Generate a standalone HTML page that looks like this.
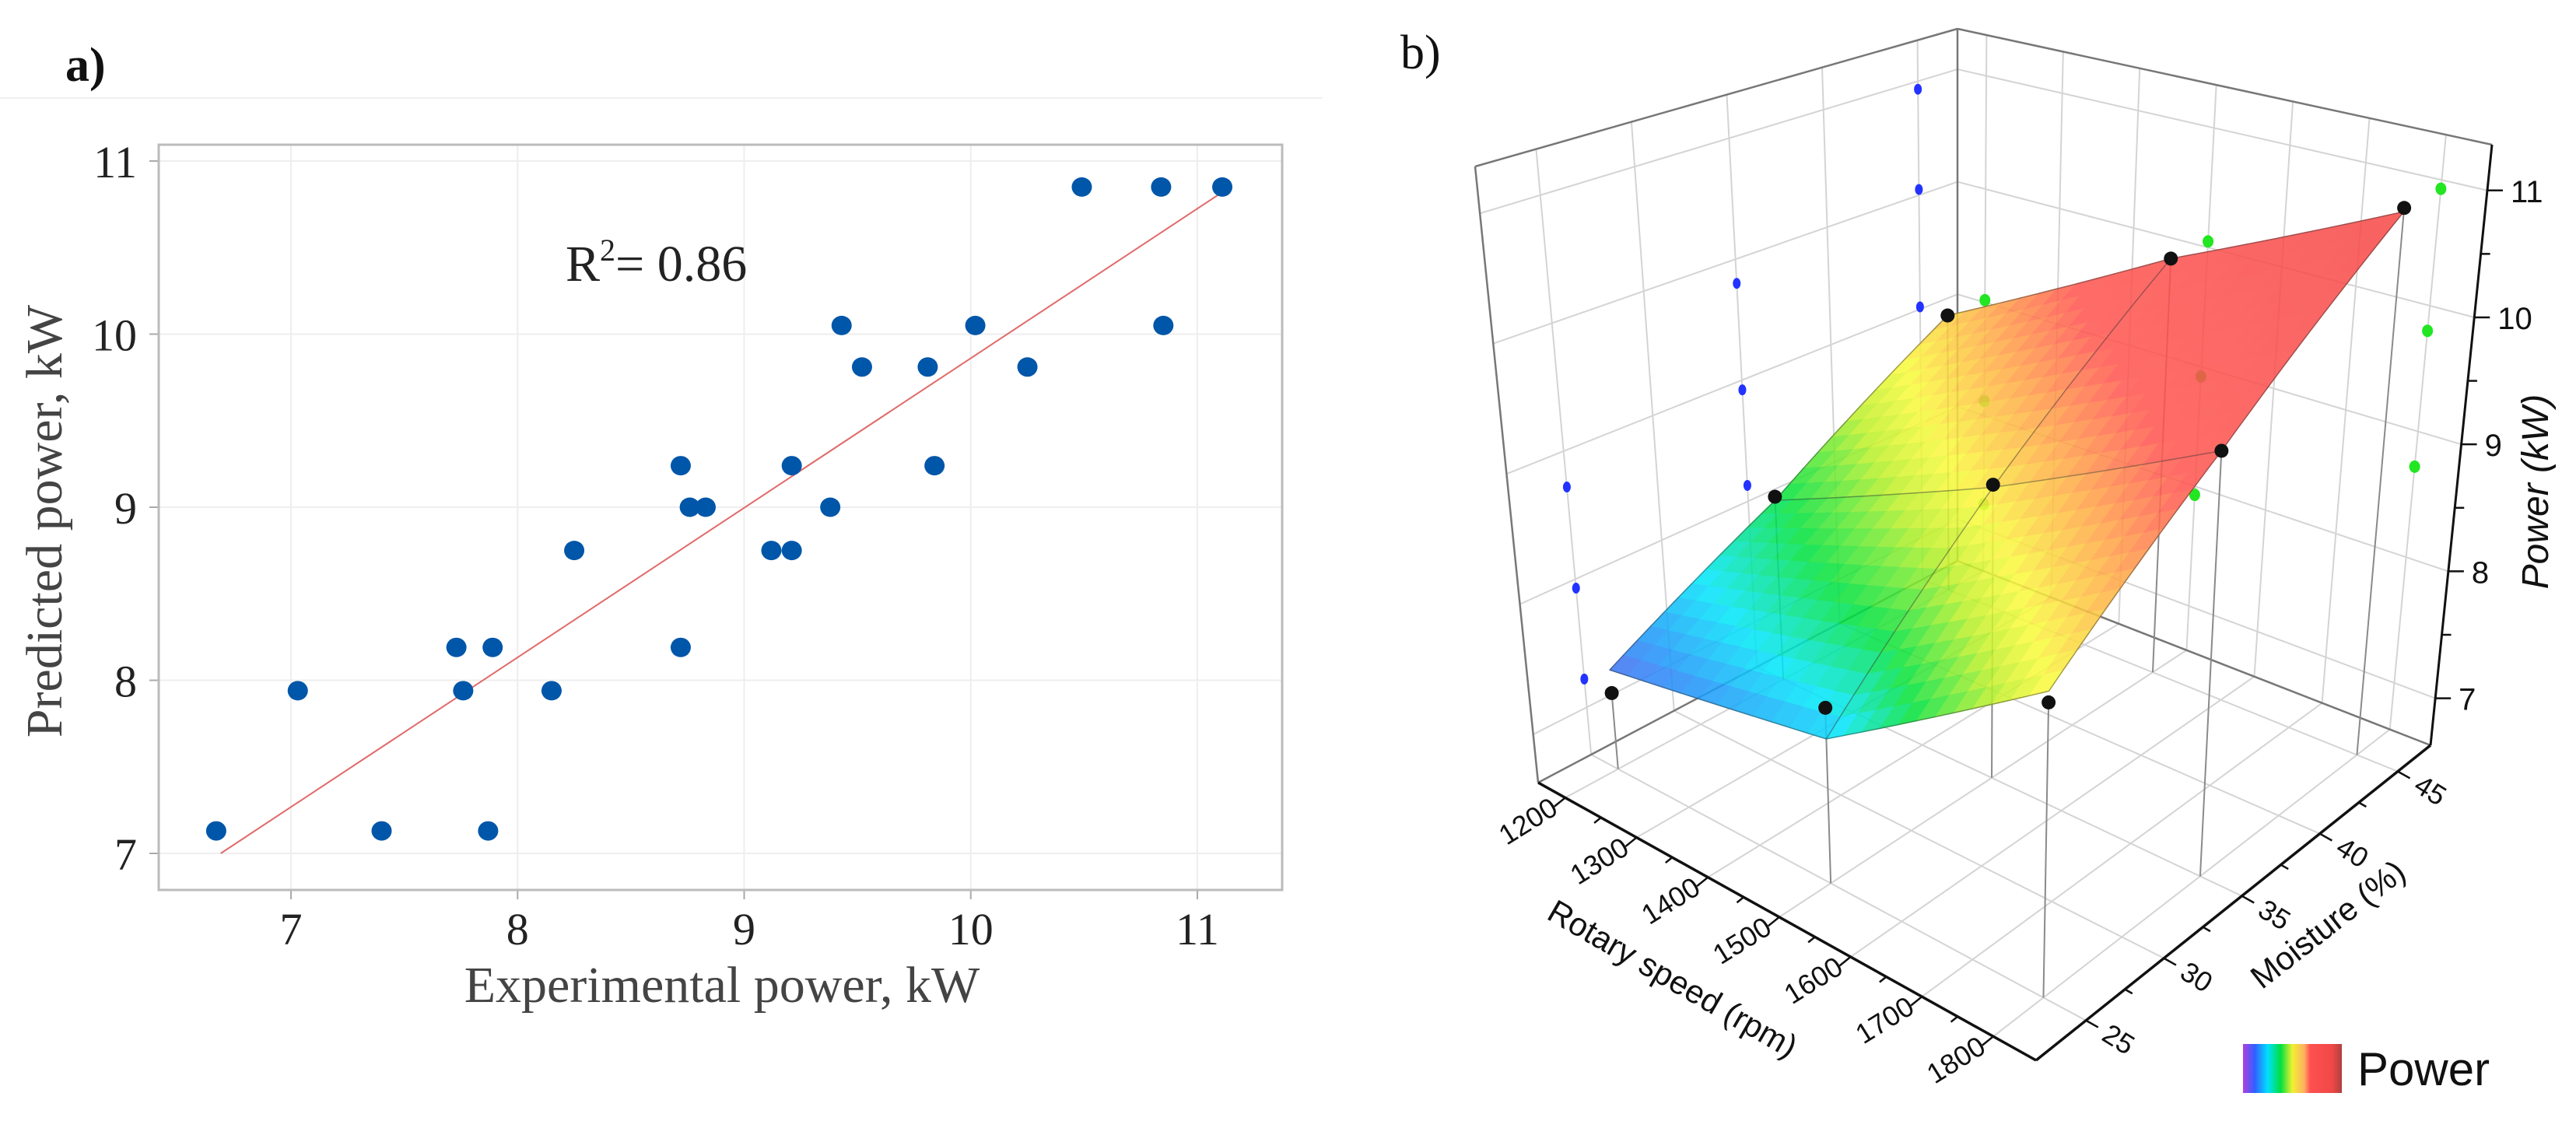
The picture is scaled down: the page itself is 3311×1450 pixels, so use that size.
<!DOCTYPE html>
<html><head><meta charset="utf-8"><style>
html,body{margin:0;padding:0;background:#fff;}
svg{display:block;}
</style></head><body>
<svg id="root" width="3311" height="1450" viewBox="0 0 3311 1450" xmlns="http://www.w3.org/2000/svg">
<rect width="3311" height="1450" fill="#fff"/>
<line x1="0" y1="126" x2="1700" y2="126" stroke="#f0f0f0" stroke-width="2"/>
<text x="84" y="104" font-family="Liberation Serif, serif" font-weight="bold" font-size="62" fill="#111">a)</text>
<text x="1800" y="88" font-family="Liberation Serif, serif" font-size="62" fill="#111">b)</text>
<g id="pa"></g>
<g id="pb"></g>
</svg>
<script>
// ---------- Panel a data ----------
const expPower  = [6.67,7.03,7.40,7.73,7.89,7.76,7.87,8.15,8.25,8.72,8.72,8.76,8.83,9.12,9.21,9.21,9.38,9.43,9.52,9.81,9.84,10.02,10.25,10.49,10.84,10.85,11.11];
const predPower = [7.13,7.94,7.13,8.19,8.19,7.94,7.13,7.94,8.75,9.24,8.19,9.00,9.00,8.75,8.75,9.24,9.00,10.05,9.81,9.81,9.24,10.05,9.81,10.85,10.85,10.05,10.85];
const xTicksA = [7,8,9,10,11];
const yTicksA = [7,8,9,10,11];
const fitLine = [[6.69,7.0],[11.11,10.82]];
const r2Label = "0.86";

// ---------- Panel b data ----------
const rpmLevels = [1200,1500,1800];
const moistLevels = [25,35,45];
// experimental power [rpm][moisture]
const expGrid = [[7.22,8.13,9.02],[7.93,8.92,10.05],[8.72,9.80,10.93]];
// predicted surface [rpm][moisture]
const surfGrid = [[7.40,8.10,9.02],[7.70,8.90,10.05],[8.80,9.80,10.90]];
const rpmTicks = [1200,1300,1400,1500,1600,1700,1800];
const moistTicks = [25,30,35,40,45];
const zTicks = [7,8,9,10,11];

const NS="http://www.w3.org/2000/svg";
function mk(parent, tag, attrs){const e=document.createElementNS(NS,tag);for(const k in attrs)e.setAttribute(k,attrs[k]);parent.appendChild(e);return e;}

// ===== Panel a =====
(function(){
  const g=document.getElementById('pa');
  const X0=204,X1=1648,Y0=186,Y1=1144;
  const sx=v=>374+(v-7)*291.25, sy=v=>1097-(v-7)*222.5;
  xTicksA.forEach(t=>{
    const l=mk(g,'line',{x1:sx(t),y1:Y0,x2:sx(t),y2:Y1,stroke:'#eeeeee','stroke-width':2});
    
    
    const tk=mk(g,'line',{x1:sx(t),y1:Y1,x2:sx(t),y2:Y1+12,stroke:'#aaa','stroke-width':2});
    
    
    const tx=mk(g,'text',{x:sx(t),y:1214,'text-anchor':'middle','font-family':'Liberation Serif, serif','font-size':58,fill:'#222'});
    tx.textContent=t;
    
    
  });
  yTicksA.forEach(t=>{
    const l=mk(g,'line',{x1:X0,y1:sy(t),x2:X1,y2:sy(t),stroke:'#eeeeee','stroke-width':2});
    
    
    const tk=mk(g,'line',{x1:X0-12,y1:sy(t),x2:X0,y2:sy(t),stroke:'#aaa','stroke-width':2});
    
    
    const tx=mk(g,'text',{x:176,y:sy(t)+21,'text-anchor':'end','font-family':'Liberation Serif, serif','font-size':58,fill:'#222'});
    tx.textContent=t;
    
    
  });
  const fr=mk(g,'rect',{x:X0,y:Y0,width:X1-X0,height:Y1-Y0,fill:'none',stroke:'#bbbbbb','stroke-width':3});
  
  
  const fl=mk(g,'line',{x1:sx(fitLine[0][0]),y1:sy(fitLine[0][1]),x2:sx(fitLine[1][0]),y2:sy(fitLine[1][1]),stroke:'#e06a6a','stroke-width':2});
  
  
  expPower.forEach((v,i)=>{
    const c=mk(g,'ellipse',{cx:sx(v),cy:sy(predPower[i]),rx:13,ry:12.5,fill:'#0056a8'});
    
    
  });
  const r2=mk(g,'text',{x:727,y:361,'font-family':'Liberation Serif, serif','font-size':66,fill:'#222'});
  r2.innerHTML='R<tspan font-size="40" dy="-26">2</tspan><tspan dy="26">= '+r2Label+'</tspan>';
  
  
  const xt=mk(g,'text',{x:928,y:1288,'text-anchor':'middle','font-family':'Liberation Serif, serif','font-size':66,fill:'#444'});
  xt.textContent='Experimental power, kW';
  
  
  const yt=mk(g,'text',{x:0,y:0,'text-anchor':'middle','font-family':'Liberation Serif, serif','font-size':66,fill:'#444',transform:'translate(79,670) rotate(-90)'});
  yt.textContent='Predicted power, kW';
  
  
})();

// ===== Panel b =====
(function(){
  const g=document.getElementById('pb');
  const rpmMin=1162,rpmMax=1860,mMin=21.8,mMax=47.1,zMin=6.63,zMax=11.36;
  const FL={L:[1977,1006],F:[2617,1363],R:[3124,958],B:[2516,721]};
  const TP={L:[1896,214],F:[2632,483],R:[3203,186],B:[2516,37]};
  function bil(c,u,v){const a=(1-u)*(1-v),b=u*(1-v),d=u*v,e=(1-u)*v;
    return [c.L[0]*a+c.F[0]*b+c.R[0]*d+c.B[0]*e, c.L[1]*a+c.F[1]*b+c.R[1]*d+c.B[1]*e];}
  function P(rpm,m,z){const u=(rpm-rpmMin)/(rpmMax-rpmMin),v=(m-mMin)/(mMax-mMin),t=(z-zMin)/(zMax-zMin);
    const f=bil(FL,u,v),p=bil(TP,u,v);return [f[0]+(p[0]-f[0])*t,f[1]+(p[1]-f[1])*t];}
  function line(a,b,st,w,name){const l=mk(g,'line',{x1:a[0],y1:a[1],x2:b[0],y2:b[1],stroke:st,'stroke-width':w});
    
    return l;}
  const GC='#d4d4d4';
  rpmTicks.forEach(r=>line(P(r,mMin,zMin),P(r,mMax,zMin),GC,2,'floor-gridline'));
  moistTicks.forEach(m=>line(P(rpmMin,m,zMin),P(rpmMax,m,zMin),GC,2,'floor-gridline'));
  moistTicks.forEach(m=>line(P(rpmMin,m,zMin),P(rpmMin,m,zMax),GC,2,'wall-gridline'));
  zTicks.forEach(z=>line(P(rpmMin,mMin,z),P(rpmMin,mMax,z),GC,2,'wall-gridline'));
  rpmTicks.forEach(r=>line(P(r,mMax,zMin),P(r,mMax,zMax),GC,2,'wall-gridline'));
  zTicks.forEach(z=>line(P(rpmMin,mMax,z),P(rpmMax,mMax,z),GC,2,'wall-gridline'));
  const E='#777';
  line(P(rpmMin,mMin,zMax),P(rpmMin,mMax,zMax),E,2.5,'box-edge');
  line(P(rpmMin,mMax,zMax),P(rpmMax,mMax,zMax),E,2.5,'box-edge');
  line(P(rpmMin,mMax,zMin),P(rpmMin,mMax,zMax),E,2.5,'box-edge');
  line(P(rpmMin,mMin,zMin),P(rpmMin,mMin,zMax),E,2.5,'box-edge');
  line(P(rpmMin,mMin,zMin),P(rpmMin,mMax,zMin),E,2.5,'box-edge');
  line(P(rpmMin,mMax,zMin),P(rpmMax,mMax,zMin),E,2.5,'box-edge');
  rpmLevels.forEach((r,i)=>moistLevels.forEach((m,j)=>{
    const z=expGrid[i][j];
    const b=P(rpmMin,m,z);
    const e1=mk(g,'ellipse',{cx:b[0],cy:b[1],rx:5,ry:7,fill:'#2233ff'});
    
    
    const gr=P(r,mMax,z);
    const e2=mk(g,'ellipse',{cx:gr[0],cy:gr[1],rx:7,ry:8,fill:'#22e622'});
    
    
  }));
  rpmLevels.forEach((r,i)=>moistLevels.forEach((m,j)=>{
    line(P(r,m,expGrid[i][j]),P(r,m,zMin),'#8a8a8a',2,'drop-line');
  }));
  const stops=[[7.3,[95,80,235]],[7.55,[30,150,250]],[7.8,[0,230,250]],[8.15,[0,225,60]],[8.55,[190,240,40]],[8.8,[250,250,60]],[9.2,[255,170,70]],[9.6,[255,85,80]],[11.2,[245,70,70]]];
  function col(v){if(v<=stops[0][0])return stops[0][1];
    for(let k=1;k<stops.length;k++){if(v<=stops[k][0]){const a=stops[k-1],b=stops[k],t=(v-a[0])/(b[0]-a[0]);
      return a[1].map((c,q)=>Math.round(c+(b[1][q]-c)*t));}}return stops[stops.length-1][1];}
  function sv(fi,fj){
    const i=Math.min(1,Math.floor(fi)),j=Math.min(1,Math.floor(fj)),a=fi-i,b=fj-j;
    return surfGrid[i][j]*(1-a)*(1-b)+surfGrid[i+1][j]*a*(1-b)+surfGrid[i+1][j+1]*a*b+surfGrid[i][j+1]*(1-a)*b;}
  const lerpR=fi=>rpmLevels[0]+(rpmLevels[2]-rpmLevels[0])*fi/2, lerpM=fj=>moistLevels[0]+(moistLevels[2]-moistLevels[0])*fj/2;
  const sg=mk(g,'g',{opacity:0.86});
  
  
  const N=24,quads=[];
  for(let a=0;a<N;a++)for(let b=0;b<N;b++){
    const f=[[a,b],[a+1,b],[a+1,b+1],[a,b+1]].map(([p,q])=>{const fi=2*p/N,fj=2*q/N;return P(lerpR(fi),lerpM(fj),sv(fi,fj));});
    const v=sv(2*(a+.5)/N,2*(b+.5)/N);
    quads.push({f,v,d:(a+.5)/N+(1-(b+.5)/N)});
  }
  quads.sort((p,q)=>p.d-q.d);
  quads.forEach(o=>{const c='rgb('+col(o.v).join(',')+')';
    const pg=mk(sg,'polygon',{points:o.f.map(p=>p[0].toFixed(1)+','+p[1].toFixed(1)).join(' '),fill:c,stroke:c,'stroke-width':1.5});
    
    
  });
  for(let i=0;i<3;i++){const pts=[],pts2=[];for(let k=0;k<=N;k++){const f=2*k/N;
      const p=P(rpmLevels[i],lerpM(f),sv(i,f));pts.push(p[0].toFixed(1)+','+p[1].toFixed(1));
      const p2=P(lerpR(f),moistLevels[i],sv(f,i));pts2.push(p2[0].toFixed(1)+','+p2[1].toFixed(1));}
    const m1=mk(g,'polyline',{points:pts.join(' '),fill:'none',stroke:'#333','stroke-width':1.5,opacity:0.45});
    
    
    const m2=mk(g,'polyline',{points:pts2.join(' '),fill:'none',stroke:'#333','stroke-width':1.5,opacity:0.45});
    
    
  }
  rpmLevels.forEach((r,i)=>moistLevels.forEach((m,j)=>{
    const p=P(r,m,expGrid[i][j]);
    const c=mk(g,'circle',{cx:p[0],cy:p[1],r:9,fill:'#111'});
    
    
  }));
  line(P(rpmMin,mMin,zMin),P(rpmMax,mMin,zMin),'#111',3.5,'rpm-axis-line');
  line(P(rpmMax,mMin,zMin),P(rpmMax,mMax,zMin),'#111',3.5,'moisture-axis-line');
  line(P(rpmMax,mMax,zMin),P(rpmMax,mMax,zMax),'#111',3,'power-axis-line');
  const F='Liberation Sans, Arial, sans-serif';
  for(let r=1200;r<=1800;r+=50){const p=P(r,mMin,zMin),maj=r%100===0,L=maj?18:11;
    line(p,[p[0]-0.78*L,p[1]+0.63*L],'#111',2.5,'rpm-tick');}
  rpmTicks.forEach(r=>{const p=P(r,mMin,zMin);
    const t=mk(g,'text',{x:0,y:0,'text-anchor':'middle','dominant-baseline':'central','font-family':F,'font-size':36,fill:'#111',transform:`translate(${p[0]-48},${p[1]+30}) rotate(-32)`});
    t.textContent=r;
    
    });
  for(let m=25;m<=45;m+=2.5){const p=P(rpmMax,m,zMin),maj=m%5===0,L=maj?18:11;
    line(p,[p[0]+0.87*L,p[1]+0.49*L],'#111',2.5,'moisture-tick');}
  moistTicks.forEach(m=>{const p=P(rpmMax,m,zMin);
    const t=mk(g,'text',{x:0,y:0,'text-anchor':'middle','dominant-baseline':'central','font-family':F,'font-size':36,fill:'#111',transform:`translate(${p[0]+42},${p[1]+24}) rotate(32)`});
    t.textContent=m;
    
    });
  for(let z=7;z<=11;z+=0.5){const p=P(rpmMax,mMax,z),L=(z%1===0)?20:12;
    line(p,[p[0]+L,p[1]],'#111',2.5,'power-tick');}
  zTicks.forEach(z=>{const p=P(rpmMax,mMax,z);
    const t=mk(g,'text',{x:p[0]+30,y:p[1]+15,'font-family':F,'font-size':40,fill:'#111'});
    t.textContent=z;
    
    });
  const t1=mk(g,'text',{x:0,y:0,'text-anchor':'middle','dominant-baseline':'central','font-family':F,'font-size':42,fill:'#111',transform:'translate(2150,1258) rotate(30)'});
  t1.textContent='Rotary speed (rpm)';
  
  
  const t2=mk(g,'text',{x:0,y:0,'text-anchor':'middle','dominant-baseline':'central','font-family':F,'font-size':42,fill:'#111',transform:'translate(2992,1188) rotate(-38)'});
  t2.textContent='Moisture (%)';
  
  
  const t3=mk(g,'text',{x:0,y:0,'text-anchor':'middle','font-family':F,'font-size':48,'font-style':'italic',fill:'#111',transform:'translate(3275,632) rotate(-90)'});
  t3.textContent='Power (kW)';
  
  
  const defs=mk(g,'defs',{});
  const lg=mk(defs,'linearGradient',{id:'cb',x1:0,y1:0,x2:1,y2:0});
  [[0,'#b040e0'],[0.12,'#3060ff'],[0.25,'#00e0ff'],[0.38,'#00e040'],[0.5,'#f0f030'],[0.62,'#ffb060'],[0.68,'#ff5050'],[0.9,'#f04848'],[1,'#b04040']].forEach(s=>mk(lg,'stop',{offset:s[0],'stop-color':s[1]}));
  const cb=mk(g,'rect',{x:2883,y:1342,width:127,height:63,fill:'url(#cb)'});
  
  
  const lt=mk(g,'text',{x:3030,y:1395,'font-family':F,'font-size':60,fill:'#111'});
  lt.textContent='Power';
  
  
})();
</script>
</body></html>
